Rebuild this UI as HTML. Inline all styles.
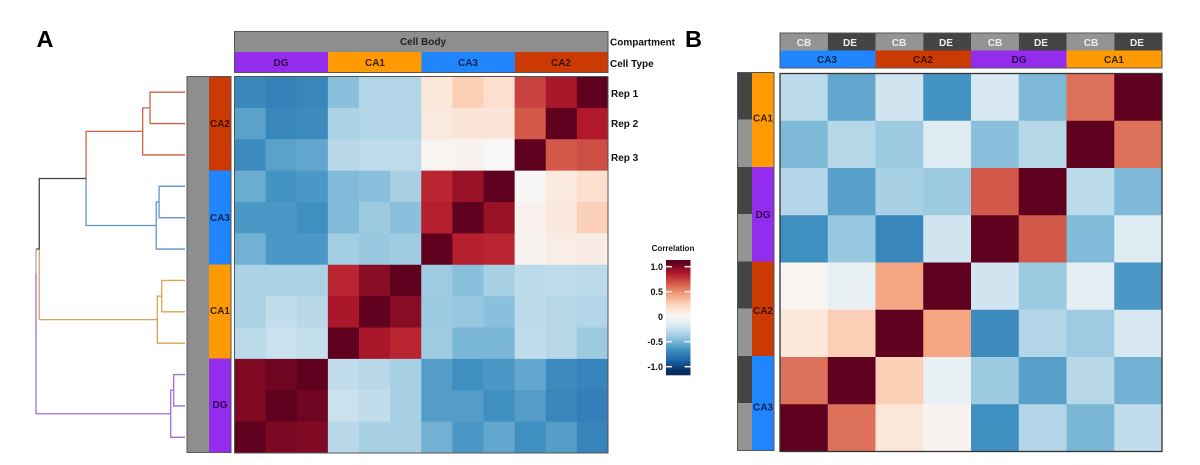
<!DOCTYPE html>
<html lang="en">
<head>
<meta charset="utf-8">
<title>Correlation heatmaps</title>
<style>
html,body{margin:0;padding:0;background:#fff;width:1200px;height:465px;overflow:hidden}
svg{display:block;filter:blur(0.35px)}
text{font-family:"Liberation Sans",sans-serif;font-weight:bold}
</style>
</head>
<body>
<svg id="figure" xmlns="http://www.w3.org/2000/svg" width="1200" height="465" viewBox="0 0 1200 465">
  <rect width="1200" height="465" fill="#fff"/>
  <text x="36.5" y="47" font-size="23.5" fill="#000">A</text>
  <text x="685" y="47" font-size="23.5" fill="#000">B</text>

  <g id="dendrogram" fill="none"></g>

  <g>
    <rect x="187" y="76.5" width="22" height="376" fill="#8e8e8e"/>
    <rect x="209" y="76.5" width="22" height="94" fill="#cb3a02"/>
    <rect x="209" y="170.5" width="22" height="94" fill="#1f86ff"/>
    <rect x="209" y="264.5" width="22" height="94" fill="#ff9a04"/>
    <rect x="209" y="358.5" width="22" height="94" fill="#942cee"/>
    <rect x="187" y="76.5" width="44" height="376" fill="none" stroke="#555" stroke-width="1"/>
    <text x="220" y="127" font-size="10" text-anchor="middle" fill="#3c0f00">CA2</text>
    <text x="220" y="221" font-size="10" text-anchor="middle" fill="#06264f">CA3</text>
    <text x="220" y="314" font-size="10" text-anchor="middle" fill="#3a2400">CA1</text>
    <text x="220" y="408" font-size="10" text-anchor="middle" fill="#2f0a50">DG</text>
  </g>

  <g>
    <rect x="234.5" y="31.5" width="373.5" height="21" fill="#8e8e8e"/>
    <rect x="234.5" y="52" width="93.5" height="20.5" fill="#942cee"/>
    <rect x="328" y="52" width="93.5" height="20.5" fill="#ff9a04"/>
    <rect x="421.5" y="52" width="93.5" height="20.5" fill="#1f86ff"/>
    <rect x="515" y="52" width="93" height="20.5" fill="#cb3a02"/>
    <rect x="234.5" y="31.5" width="373.5" height="41" fill="none" stroke="#555" stroke-width="1"/>
    <text x="423" y="45" font-size="10" text-anchor="middle" fill="#222">Cell Body</text>
    <text x="281" y="66" font-size="10" text-anchor="middle" fill="#2f0a50">DG</text>
    <text x="375" y="66" font-size="10" text-anchor="middle" fill="#3a2400">CA1</text>
    <text x="468" y="66" font-size="10" text-anchor="middle" fill="#06264f">CA3</text>
    <text x="561" y="66" font-size="10" text-anchor="middle" fill="#3c0f00">CA2</text>
    <text x="610" y="45.5" font-size="10" fill="#111">Compartment</text>
    <text x="610" y="67" font-size="10" fill="#111">Cell Type</text>
    <text x="611" y="97" font-size="10" fill="#111">Rep 1</text>
    <text x="611" y="127" font-size="10" fill="#111">Rep 2</text>
    <text x="611" y="161" font-size="10" fill="#111">Rep 3</text>
  </g>

  <g id="heatmap-a"></g>
  <rect x="234.5" y="76.5" width="373.5" height="376.5" fill="none" stroke="#555" stroke-width="1"/>

  <g id="legend">
    <text x="673" y="251" font-size="8" text-anchor="middle" fill="#111">Correlation</text>
  </g>

  <g>
    <rect x="780" y="33" width="47.75" height="17.5" fill="#949494"/>
    <rect x="827.75" y="33" width="47.75" height="17.5" fill="#444"/>
    <rect x="875.5" y="33" width="47.75" height="17.5" fill="#949494"/>
    <rect x="923.25" y="33" width="47.75" height="17.5" fill="#444"/>
    <rect x="971" y="33" width="47.75" height="17.5" fill="#949494"/>
    <rect x="1018.75" y="33" width="47.75" height="17.5" fill="#444"/>
    <rect x="1066.5" y="33" width="47.75" height="17.5" fill="#949494"/>
    <rect x="1114.25" y="33" width="47.75" height="17.5" fill="#444"/>
    <rect x="780" y="50.5" width="95.5" height="17.5" fill="#1f86ff"/>
    <rect x="875.5" y="50.5" width="95.5" height="17.5" fill="#cb3a02"/>
    <rect x="971" y="50.5" width="95.5" height="17.5" fill="#942cee"/>
    <rect x="1066.5" y="50.5" width="95.5" height="17.5" fill="#ff9a04"/>
    <rect x="780" y="33" width="382" height="35" fill="none" stroke="#555" stroke-width="1"/>
    <text x="804" y="46" font-size="10" text-anchor="middle" fill="#eee">CB</text>
    <text x="850" y="46" font-size="10" text-anchor="middle" fill="#eee">DE</text>
    <text x="899" y="46" font-size="10" text-anchor="middle" fill="#eee">CB</text>
    <text x="946" y="46" font-size="10" text-anchor="middle" fill="#eee">DE</text>
    <text x="995" y="46" font-size="10" text-anchor="middle" fill="#eee">CB</text>
    <text x="1041" y="46" font-size="10" text-anchor="middle" fill="#eee">DE</text>
    <text x="1091" y="46" font-size="10" text-anchor="middle" fill="#eee">CB</text>
    <text x="1137" y="46" font-size="10" text-anchor="middle" fill="#eee">DE</text>
    <text x="827" y="63" font-size="10" text-anchor="middle" fill="#06264f">CA3</text>
    <text x="923" y="63" font-size="10" text-anchor="middle" fill="#3c0f00">CA2</text>
    <text x="1019" y="63" font-size="10" text-anchor="middle" fill="#2f0a50">DG</text>
    <text x="1114" y="63" font-size="10" text-anchor="middle" fill="#3a2400">CA1</text>
  </g>

  <g>
    <rect x="737.5" y="72.5" width="14.5" height="47.25" fill="#444"/>
    <rect x="737.5" y="119.75" width="14.5" height="47.25" fill="#949494"/>
    <rect x="737.5" y="167" width="14.5" height="47.25" fill="#444"/>
    <rect x="737.5" y="214.25" width="14.5" height="47.25" fill="#949494"/>
    <rect x="737.5" y="261.5" width="14.5" height="47.25" fill="#444"/>
    <rect x="737.5" y="308.75" width="14.5" height="47.25" fill="#949494"/>
    <rect x="737.5" y="356" width="14.5" height="47.25" fill="#444"/>
    <rect x="737.5" y="403.25" width="14.5" height="47.25" fill="#949494"/>
    <rect x="752" y="72.5" width="22" height="94.5" fill="#ff9a04"/>
    <rect x="752" y="167" width="22" height="94.5" fill="#942cee"/>
    <rect x="752" y="261.5" width="22" height="94.5" fill="#cb3a02"/>
    <rect x="752" y="356" width="22" height="94.5" fill="#1f86ff"/>
    <rect x="737.5" y="72.5" width="36.5" height="378" fill="none" stroke="#555" stroke-width="1"/>
    <text x="763" y="121.5" font-size="10" text-anchor="middle" fill="#3a2400">CA1</text>
    <text x="763" y="218" font-size="10" text-anchor="middle" fill="#2f0a50">DG</text>
    <text x="763" y="314" font-size="10" text-anchor="middle" fill="#3c0f00">CA2</text>
    <text x="763" y="410.5" font-size="10" text-anchor="middle" fill="#06264f">CA3</text>
  </g>

  <g id="heatmap-b"></g>
  <rect x="780" y="73.5" width="382" height="378" fill="none" stroke="#333" stroke-width="1.3"/>
</svg>

<script>
// Panel A: 12 replicates, correlation values by row
const panelARows = ["CA2-1","CA2-2","CA2-3","CA3-1","CA3-2","CA3-3","CA1-1","CA1-2","CA1-3","DG-1","DG-2","DG-3"];
const panelAColumns = ["DG-1","DG-2","DG-3","CA1-1","CA1-2","CA1-3","CA3-1","CA3-2","CA3-3","CA2-1","CA2-2","CA2-3"];
const panelAValues = [
  [-.65,-.68,-.66,-.42,-.30,-.30,.12,.25,.17,.68,.82,1],
  [-.54,-.66,-.64,-.32,-.30,-.30,.10,.13,.13,.62,1,.80],
  [-.64,-.54,-.52,-.28,-.26,-.26,.02,.03,.00,1,.62,.65],
  [-.50,-.60,-.58,-.44,-.42,-.33,.76,.86,1,.01,.10,.16],
  [-.58,-.58,-.62,-.44,-.37,-.42,.78,1,.86,.04,.11,.24],
  [-.48,-.58,-.58,-.35,-.38,-.36,1,.78,.76,.03,.07,.08],
  [-.32,-.32,-.32,.76,.90,1,-.36,-.42,-.33,-.27,-.26,-.27],
  [-.32,-.25,-.28,.82,1,.90,-.37,-.38,-.42,-.27,-.29,-.30],
  [-.27,-.22,-.24,1,.82,.76,-.36,-.46,-.46,-.25,-.29,-.37],
  [.92,.96,1,-.25,-.28,-.33,-.56,-.62,-.58,-.52,-.64,-.67],
  [.92,1,.96,-.22,-.25,-.33,-.56,-.56,-.62,-.56,-.66,-.69],
  [1,.93,.92,-.28,-.33,-.33,-.48,-.58,-.52,-.62,-.56,-.67]
];

// Panel B: 8 cell type / compartment pairs
const panelBRows = ["CA1-DE","CA1-CB","DG-DE","DG-CB","CA2-DE","CA2-CB","CA3-DE","CA3-CB"];
const panelBColumns = ["CA3-CB","CA3-DE","CA2-CB","CA2-DE","DG-CB","DG-DE","CA1-CB","CA1-DE"];
const panelBValues = [
  [-.27,-.52,-.20,-.60,-.17,-.45,.55,1],
  [-.45,-.29,-.37,-.13,-.42,-.29,1,.55],
  [-.30,-.55,-.33,-.37,.62,1,-.27,-.45],
  [-.62,-.38,-.66,-.20,1,.62,-.44,-.13],
  [.02,-.08,.40,1,-.20,-.37,-.10,-.58],
  [.12,.25,1,.40,-.64,-.30,-.36,-.17],
  [.55,1,.25,-.08,-.37,-.55,-.28,-.48],
  [1,.55,.12,.03,-.62,-.30,-.46,-.25]
];

// Legend ticks
const legendTickValues = [1, 0.5, 0, -0.5, -1];
const legendTickLabels = ["1.0", "0.5", "0", "-0.5", "-1.0"];

// Dendrogram merge heights (0 = leaves, 1 = root)
const clusterNames = ["ca2", "ca3", "ca1", "dg"];
const innerMergeHeights = [0.235, 0.174, 0.156, 0.076];
const outerMergeHeights = [0.284, 0.193, 0.186, 0.096];
const ca2Ca3MergeHeight = 0.664;
const ca1JoinMergeHeight = 0.978;
const rootMergeHeight = 1.0;

const NS = "http://www.w3.org/2000/svg";
const rampStops = ["#053061","#2166ac","#4393c3","#92c5de","#d1e5f0","#f7f7f7","#fddbc7","#f4a582","#d6604d","#b2182b","#5f001f"];

function hexToRgb(h) {
  return [parseInt(h.slice(1,3),16), parseInt(h.slice(3,5),16), parseInt(h.slice(5,7),16)];
}
function colorScale(v) {
  const t = (Math.max(-1, Math.min(1, v)) + 1) / 2 * (rampStops.length - 1);
  const i = Math.min(Math.floor(t), rampStops.length - 2);
  const f = t - i;
  const a = hexToRgb(rampStops[i]);
  const b = hexToRgb(rampStops[i + 1]);
  return "rgb(" + a.map(function (c, k) { return Math.round(c + (b[k] - c) * f); }).join(",") + ")";
}
function bandScale(start, end, count) {
  const step = (end - start) / count;
  return {
    step: step,
    at: function (i) { return start + i * step; },
    center: function (i) { return start + (i + 0.5) * step; }
  };
}
function drawHeatmap(groupId, prefix, rows, cols, values, xBand, yBand) {
  const group = document.getElementById(groupId);
  values.forEach(function (row, r) {
    row.forEach(function (value, c) {
      const cell = document.createElementNS(NS, "rect");
      cell.setAttribute("x", xBand.at(c));
      cell.setAttribute("y", yBand.at(r));
      cell.setAttribute("width", xBand.step + (c < cols.length - 1 ? 0.4 : 0));
      cell.setAttribute("height", yBand.step + (r < rows.length - 1 ? 0.4 : 0));
      cell.setAttribute("fill", colorScale(value));
      
      
      group.appendChild(cell);
    });
  });
}

const aX = bandScale(234.5, 608, panelAColumns.length);
const aY = bandScale(76.5, 453, panelARows.length);
drawHeatmap("heatmap-a", "heatmap-a", panelARows, panelAColumns, panelAValues, aX, aY);

const bX = bandScale(780, 1162, panelBColumns.length);
const bY = bandScale(73.5, 451.5, panelBRows.length);
drawHeatmap("heatmap-b", "heatmap-b", panelBRows, panelBColumns, panelBValues, bX, bY);

// Dendrogram
const dendroGroup = document.getElementById("dendrogram");
const leafX = 185;
function heightToX(h) { return leafX - h * 149; }
function addPath(name, d, color, width) {
  const p = document.createElementNS(NS, "path");
  p.setAttribute("d", d);
  p.setAttribute("stroke", color);
  p.setAttribute("stroke-width", width);
  
  
  dendroGroup.appendChild(p);
}
const clusterColors = { ca2: "#cf6247", ca3: "#5f94cf", ca1: "#d8a355", dg: "#a06fd8" };
const clusterMid = [];
clusterNames.forEach(function (name, k) {
  const first = k * 3;
  const y0 = aY.center(first);
  const y1 = aY.center(first + 1);
  const y2 = aY.center(first + 2);
  const xi = heightToX(innerMergeHeights[k]);
  const xo = heightToX(outerMergeHeights[k]);
  const midInner = (y0 + y1) / 2;
  const mid = (midInner + y2) / 2;
  clusterMid.push({ y: mid, x: xo });
  addPath("dendrogram-" + name,
    "M" + leafX + " " + y0 + "H" + xi + "V" + y1 + "H" + leafX +
    "M" + xi + " " + midInner + "H" + xo + "V" + y2 + "H" + leafX,
    clusterColors[name], 1.3);
});
const xUpper = heightToX(ca2Ca3MergeHeight);
const xJoin = heightToX(ca1JoinMergeHeight);
const xRoot = heightToX(rootMergeHeight);
const yUpper = (clusterMid[0].y + clusterMid[1].y) / 2;
const yJoin = (yUpper + clusterMid[2].y) / 2;
const yRoot = (yJoin + clusterMid[3].y) / 2;
addPath("dendrogram-ca2-branch", "M" + clusterMid[0].x + " " + clusterMid[0].y + "H" + xUpper + "V" + yUpper, clusterColors.ca2, 1.3);
addPath("dendrogram-ca3-branch", "M" + clusterMid[1].x + " " + clusterMid[1].y + "H" + xUpper + "V" + yUpper, clusterColors.ca3, 1.3);
addPath("dendrogram-upper-branch", "M" + xUpper + " " + yUpper + "H" + xJoin + "V" + yJoin + "H" + xRoot, "#444", 1.3);
addPath("dendrogram-ca1-branch", "M" + clusterMid[2].x + " " + clusterMid[2].y + "H" + xJoin + "V" + yJoin, clusterColors.ca1, 1.3);
addPath("dendrogram-root-upper", "M" + xRoot + " " + yJoin + "V" + (yJoin + 24), "#aaa", 1.3);
addPath("dendrogram-dg-branch", "M" + clusterMid[3].x + " " + clusterMid[3].y + "H" + xRoot + "V" + (yJoin + 24), clusterColors.dg, 1.3);

// Legend
const legendGroup = document.getElementById("legend");
const legendLeft = 666;
const legendRight = 690.5;
function legendY(v) { return 316.7 - v * 50; }
for (let py = 260; py < 375; py++) {
  const seg = document.createElementNS(NS, "rect");
  seg.setAttribute("x", legendLeft);
  seg.setAttribute("y", py);
  seg.setAttribute("width", legendRight - legendLeft);
  seg.setAttribute("height", 1.3);
  const v = (316.7 - py - 0.5) / 50;
  seg.setAttribute("fill", colorScale(v / 1.08));
  
  
  legendGroup.appendChild(seg);
}
legendTickValues.forEach(function (v, i) {
  const y = legendY(v);
  if (v !== 0) {
    ["left", "right"].forEach(function (side) {
      const tick = document.createElementNS(NS, "rect");
      tick.setAttribute("x", side === "left" ? legendLeft : legendRight - 6);
      tick.setAttribute("y", y - 0.75);
      tick.setAttribute("width", 6);
      tick.setAttribute("height", 1.5);
      tick.setAttribute("fill", "#fbeee8");
      
      
      legendGroup.appendChild(tick);
    });
  }
  const label = document.createElementNS(NS, "text");
  label.setAttribute("x", 663);
  label.setAttribute("y", y + 3.2);
  label.setAttribute("font-size", 9);
  label.setAttribute("text-anchor", "end");
  label.setAttribute("fill", "#111");
  
  
  label.textContent = legendTickLabels[i];
  legendGroup.appendChild(label);
});
</script>
</body>
</html>
